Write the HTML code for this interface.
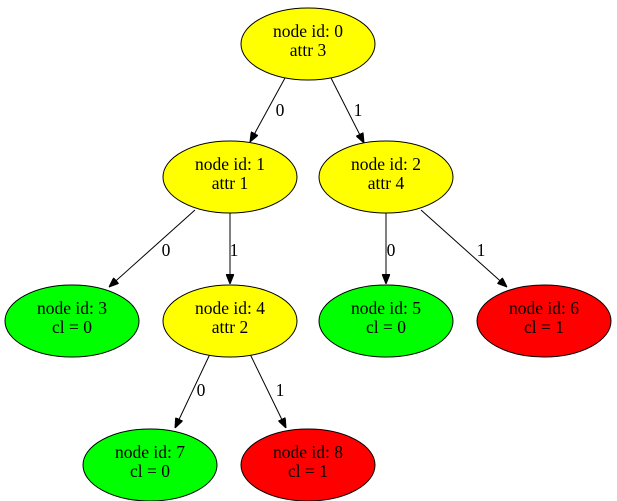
<!DOCTYPE html>
<html><head><meta charset="utf-8"><style>
html,body{margin:0;padding:0;background:#fff;}
svg{display:block;}
text{font-family:"Liberation Serif",serif;font-size:17.5px;text-anchor:middle;}
</style></head><body>
<svg width="617" height="501" viewBox="0 0 617 501" xmlns="http://www.w3.org/2000/svg">
<defs><marker id="a" markerWidth="10" markerHeight="8" refX="10" refY="4" orient="auto" markerUnits="userSpaceOnUse"><path d="M0,0 L10,4 L0,8 Z" fill="#000" stroke="#000"/></marker></defs>
<g stroke="#000" stroke-width="1" fill="none">
<line x1="285" y1="78" x2="250" y2="142" marker-end="url(#a)"/>
<line x1="331" y1="78" x2="364" y2="143" marker-end="url(#a)"/>
<line x1="195" y1="210" x2="109" y2="287" marker-end="url(#a)"/>
<line x1="230" y1="211" x2="230" y2="284" marker-end="url(#a)"/>
<line x1="386" y1="211" x2="386" y2="284" marker-end="url(#a)"/>
<line x1="421" y1="210" x2="507" y2="287" marker-end="url(#a)"/>
<line x1="210" y1="354" x2="175" y2="428" marker-end="url(#a)"/>
<line x1="250" y1="354" x2="286" y2="428" marker-end="url(#a)"/>
</g>
<g stroke="#000" stroke-width="1">
<ellipse cx="308" cy="44" rx="67" ry="36" fill="#ffff00"/>
<ellipse cx="230" cy="177" rx="67" ry="36" fill="#ffff00"/>
<ellipse cx="386" cy="177" rx="67" ry="36" fill="#ffff00"/>
<ellipse cx="72" cy="321" rx="67" ry="36" fill="#00ff00"/>
<ellipse cx="230" cy="321" rx="67" ry="36" fill="#ffff00"/>
<ellipse cx="386" cy="321" rx="67" ry="36" fill="#00ff00"/>
<ellipse cx="544" cy="321" rx="67" ry="36" fill="#ff0000"/>
<ellipse cx="150" cy="465" rx="67" ry="36" fill="#00ff00"/>
<ellipse cx="308" cy="465" rx="67" ry="36" fill="#ff0000"/>
</g>
<g fill="#000">
<text x="308" y="37">node id: 0</text><text x="308" y="56">attr 3</text>
<text x="230" y="170">node id: 1</text><text x="230" y="189">attr 1</text>
<text x="386" y="170">node id: 2</text><text x="386" y="189">attr 4</text>
<text x="72" y="314">node id: 3</text><text x="72" y="333">cl = 0</text>
<text x="230" y="314">node id: 4</text><text x="230" y="333">attr 2</text>
<text x="386" y="314">node id: 5</text><text x="386" y="333">cl = 0</text>
<text x="544" y="314">node id: 6</text><text x="544" y="333">cl = 1</text>
<text x="150" y="458">node id: 7</text><text x="150" y="477">cl = 0</text>
<text x="308" y="458">node id: 8</text><text x="308" y="477">cl = 1</text>
<text x="280" y="116">0</text><text x="358" y="116">1</text>
<text x="166" y="256">0</text><text x="234" y="256">1</text>
<text x="391" y="256">0</text><text x="481" y="256">1</text>
<text x="201" y="396">0</text><text x="280" y="396">1</text>
</g>
</svg>
</body></html>
